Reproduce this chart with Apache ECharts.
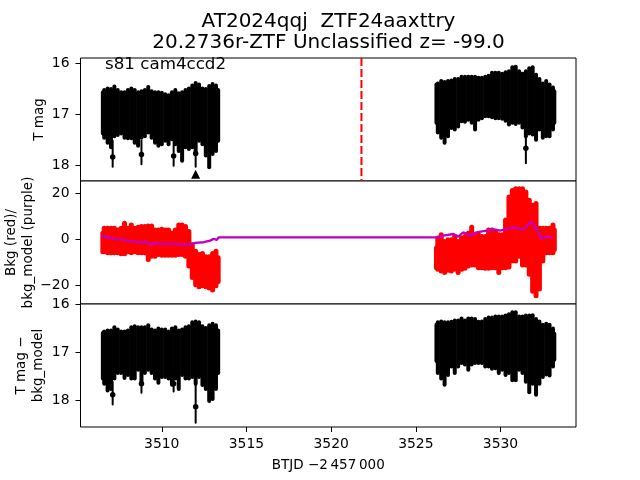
<!DOCTYPE html>
<html><head><meta charset="utf-8">
<style>html,body{margin:0;padding:0;background:#fff}#c{width:640px;height:480px}</style>
<script src="https://cdn.jsdelivr.net/npm/echarts@6/dist/echarts.min.js"></script>
</head><body><div id="c"></div>
<script>
const tL=[3506.52,3506.6,3506.8,3507.0,3507.2,3507.4,3507.6,3507.8,3508.0,3508.2,3508.4,3508.6,3508.8,3509.0,3509.2,3509.4,3509.6,3509.8,3510.0,3510.2,3510.4,3510.6,3510.8,3511.0,3511.2,3511.4,3511.6,3511.8,3512.0,3512.2,3512.4,3512.6,3512.8,3513.0,3513.2,3513.33];
const tR=[3526.22,3526.3,3526.5,3526.7,3526.9,3527.1,3527.3,3527.5,3527.7,3527.9,3528.1,3528.3,3528.5,3528.7,3528.9,3529.1,3529.3,3529.5,3529.7,3529.9,3530.1,3530.3,3530.5,3530.7,3530.9,3531.1,3531.3,3531.5,3531.7,3531.9,3532.1,3532.3,3532.5,3532.7,3532.9,3533.1,3533.18];

const magTopL=[16.53,16.49,16.46,16.47,16.42,16.49,16.53,16.53,16.49,16.46,16.49,16.53,16.51,16.49,16.43,16.51,16.53,16.53,16.54,16.57,16.59,16.53,16.49,16.55,16.53,16.49,16.46,16.40,16.35,16.38,16.46,16.47,16.41,16.37,16.40,16.49];
const magBotL=[17.42,17.50,17.60,17.69,17.47,17.45,17.42,17.50,17.51,17.51,17.60,17.66,17.50,17.47,17.40,17.50,17.60,17.66,17.63,17.56,17.63,17.53,17.63,17.76,17.95,17.69,17.72,17.69,17.82,17.56,17.63,17.85,18.08,17.82,17.76,17.56];
const magTopR=[16.38,16.36,16.31,16.33,16.31,16.30,16.27,16.27,16.23,16.23,16.23,16.23,16.23,16.25,16.25,16.23,16.21,16.15,16.15,16.15,16.17,16.14,16.12,16.04,16.03,16.12,16.17,16.12,16.06,16.04,16.19,16.27,16.36,16.31,16.38,16.44,16.51];
const magBotR=[17.21,17.40,17.50,17.60,17.47,17.31,17.34,17.28,17.18,17.19,17.15,17.21,17.34,17.15,17.12,17.08,17.08,17.10,17.12,17.12,17.13,17.17,17.24,17.21,17.23,17.21,17.30,17.47,17.42,17.44,17.54,17.34,17.50,17.47,17.47,17.34,17.21];
const magOutT=[3507.1,3508.8,3510.7,3512.0,3531.5];
const magOutV=[17.84,17.79,17.82,17.77,17.67];
const magOutLo=[17.50,17.50,17.50,17.50,17.30];
const magOutHi=[18.05,18.00,18.03,18.05,17.98];
const limitT=[3512.0];
const limitV=[18.18];
const eventT=[3521.79,3521.79];
const eventV=[15.90,18.31];

const bkgTopL=[3.65,5.80,5.80,5.80,5.80,5.09,5.80,7.96,5.80,7.24,5.80,6.24,6.52,6.52,6.81,6.81,5.09,5.09,5.37,5.09,5.09,3.65,5.09,7.24,7.24,6.52,4.37,-1.36,-4.23,-5.66,-5.23,-6.67,-6.67,-5.23,-4.23,-7.10];
const bkgBotL=[-6.67,-6.67,-7.10,-7.10,-7.10,-7.10,-7.53,-7.53,-6.67,-7.10,-6.67,-7.10,-7.10,-7.10,-9.97,-8.53,-8.53,-7.81,-8.10,-8.10,-8.10,-8.10,-8.10,-7.81,-7.81,-8.53,-12.83,-17.85,-21.00,-21.87,-21.44,-21.87,-22.44,-23.30,-21.44,-19.57];
const bkgTopR=[-2.80,1.50,2.94,0.07,0.79,0.79,2.22,0.07,1.50,2.22,3.65,6.24,2.22,2.94,2.22,2.22,5.09,5.09,4.37,2.94,2.94,9.39,19.43,22.29,23.01,23.01,23.01,21.58,18.00,15.84,16.56,5.80,5.80,5.80,5.80,7.24,5.09];
const bkgBotR=[-13.55,-14.27,-14.98,-15.70,-14.70,-14.98,-14.27,-15.70,-14.27,-13.84,-12.83,-12.40,-12.40,-13.55,-13.55,-13.84,-13.84,-13.55,-13.55,-15.70,-13.55,-13.55,-13.26,-10.68,-10.68,-8.53,-12.40,-12.40,-16.42,-23.87,-25.74,-22.87,-10.68,-7.10,-7.10,-7.10,-5.66];
const modelT=[3506.41,3506.76,3507.16,3507.75,3508.14,3508.53,3509.12,3509.32,3509.61,3510.11,3510.70,3511.29,3511.68,3511.97,3512.47,3512.86,3513.06,3513.25,3513.35,3526.33,3526.63,3527.22,3527.51,3527.81,3528.20,3528.59,3529.18,3529.48,3529.97,3530.76,3531.35,3531.80,3532.13,3532.43,3532.72,3533.11];
const modelV=[1.50,0.79,0.07,-0.36,-0.93,-1.36,-1.36,-2.37,-1.65,-2.08,-2.08,-2.51,-2.37,-1.65,-1.36,-0.65,0.07,-0.36,0.72,0.79,1.50,2.22,1.07,2.94,1.50,2.94,3.65,4.37,3.65,5.09,4.08,7.67,4.37,0.07,1.07,0.50];

const subTopL=[16.56,16.53,16.51,16.51,16.44,16.49,16.53,16.53,16.51,16.44,16.42,16.44,16.44,16.44,16.40,16.49,16.51,16.47,16.49,16.49,16.53,16.47,16.44,16.51,16.49,16.44,16.42,16.34,16.32,16.34,16.42,16.46,16.40,16.37,16.40,16.51];
const subBotL=[17.59,17.70,17.84,17.81,17.59,17.48,17.48,17.58,17.52,17.59,17.59,17.41,17.66,17.48,17.41,17.48,17.59,17.68,17.56,17.56,17.59,17.72,17.59,17.81,17.52,17.59,17.59,17.56,17.70,17.56,17.73,17.81,18.06,18.02,17.81,17.48];
const subTopR=[16.39,16.34,16.32,16.34,16.34,16.33,16.30,16.30,16.26,16.30,16.26,16.26,16.27,16.33,16.32,16.27,16.24,16.24,16.22,16.22,16.22,16.20,16.17,16.13,16.13,16.22,16.22,16.20,16.20,16.19,16.27,16.32,16.39,16.37,16.39,16.47,16.58];
const subBotR=[17.23,17.48,17.59,17.72,17.52,17.34,17.48,17.34,17.27,17.30,17.41,17.30,17.27,17.27,17.27,17.34,17.34,17.39,17.38,17.48,17.41,17.52,17.48,17.63,17.63,17.41,17.48,17.66,17.88,17.70,17.93,17.70,17.56,17.51,17.53,17.34,17.20];
const subOutT=[3507.1,3508.8,3510.7,3512.0];
const subOutV=[17.89,17.66,17.66,18.14];
const subOutLo=[17.60,17.40,17.40,17.60];
const subOutHi=[18.11,17.87,17.84,18.49];

const xTicks=[3510,3515,3520,3525,3530];
const magTicks=[16,17,18];
const bkgTicks=[20,0,-20];
const titleLine1='AT2024qqj  ZTF24aaxttry';
const titleLine2='20.2736r-ZTF Unclassified z= -99.0';
const sectorLabel='s81 cam4ccd2';

const FONT='"DejaVu Sans"';
const TICK=13.9;
function cols(t,a,b){return t.map((x,i)=>[x,a[i],b[i]]);}
function band(idx,data,color,width,z){
  return {type:'custom',xAxisIndex:idx,yAxisIndex:idx,data:data,z:z||2,silent:true,clip:true,
    encode:{x:0,y:[1,2]},
    renderItem:function(p,api){
      const a=api.coord([api.value(0),api.value(1)]);
      const b=api.coord([api.value(0),api.value(2)]);
      const r=width/2;
      const y1=Math.min(a[1],b[1])+r,y2=Math.max(a[1],b[1])-r;
      return {type:'line',shape:{x1:a[0],y1:y1,x2:a[0],y2:Math.max(y1,y2)},
        style:{stroke:color,lineWidth:width,lineCap:'round',fill:null}};
    }};
}
function xAxis(i,labels){
  return {type:'value',gridIndex:i,min:3505.2,max:3534.46,splitLine:{show:false},
    axisLine:{show:false},
    axisTick:{show:labels,length:5,inside:false,lineStyle:{color:'#000',width:1},customValues:xTicks},
    axisLabel:{show:labels,color:'#000',fontFamily:FONT,fontSize:TICK,margin:10,customValues:xTicks,formatter:v=>String(v)},
    name:labels?'BTJD \u22122\u2009457\u2009000':'',nameLocation:'middle',nameGap:31,nameMoveOverlap:false,
    nameTextStyle:{color:'#000',fontFamily:FONT,fontSize:13.5}};
}
function yAxis(i,min,max,inv,ticks,name,gap){
  return {type:'value',gridIndex:i,min:min,max:max,inverse:inv,splitLine:{show:false},
    axisLine:{show:false},
    axisTick:{show:true,length:5,lineStyle:{color:'#000',width:1},customValues:ticks},
    axisLabel:{color:'#000',fontFamily:FONT,fontSize:TICK,margin:11,customValues:ticks,
      formatter:v=>String(v).replace('-','\u2212')},
    name:name,nameLocation:'middle',nameGap:gap,nameRotate:90,nameMoveOverlap:false,
    nameTextStyle:{color:'#000',fontFamily:FONT,fontSize:13.5,lineHeight:17,align:'center'}};
}
const gridBase={left:80.5,width:495.5,show:true,borderColor:'#000',borderWidth:1,backgroundColor:'#fff',outerBoundsMode:'none',containLabel:false};
const option={
  animation:false,
  backgroundColor:'#fff',
  title:[
    {text:titleLine1,left:328.5,top:12,padding:0,textAlign:'center',textStyle:{color:'#000',fontFamily:FONT,fontSize:20,fontWeight:'normal'}},
    {text:titleLine2,left:328.5,top:33,padding:0,textAlign:'center',textStyle:{color:'#000',fontFamily:FONT,fontSize:20,fontWeight:'normal'}},
    {text:sectorLabel,left:105,top:56,padding:0,textStyle:{color:'#000',fontFamily:FONT,fontSize:16.7,fontWeight:'normal'}}
  ],
  grid:[
    Object.assign({top:58,height:123},gridBase),
    Object.assign({top:181,height:123},gridBase),
    Object.assign({top:304,height:123},gridBase)
  ],
  xAxis:[xAxis(0,false),xAxis(1,false),xAxis(2,true)],
  yAxis:[
    yAxis(0,15.90,18.31,true,magTicks,'T mag',33),
    yAxis(1,-28.3,25.3,false,bkgTicks,'Bkg (red)/\nbkg_model (purple)',44),
    yAxis(2,16,18.56,true,magTicks,'T mag \u2212\nbkg_model',34)
  ],
  series:[
    band(0,cols(tL,magTopL,magBotL),'#000',4),
    band(0,cols(tR,magTopR,magBotR),'#000',4),
    band(0,cols(magOutT,magOutLo,magOutHi),'#000',2),
    {type:'scatter',xAxisIndex:0,yAxisIndex:0,symbolSize:5.5,itemStyle:{color:'#000',opacity:1},silent:true,
      data:magOutT.map((x,i)=>[x,magOutV[i]])},
    {type:'scatter',xAxisIndex:0,yAxisIndex:0,symbol:'triangle',symbolSize:9,itemStyle:{color:'#000',opacity:1},silent:true,
      data:limitT.map((x,i)=>[x,limitV[i]])},
    {type:'line',xAxisIndex:0,yAxisIndex:0,showSymbol:false,silent:true,z:4,
      lineStyle:{color:'#ff0000',width:2,type:[8,3]},
      data:eventT.map((x,i)=>[x,eventV[i]])},
    band(1,cols(tL,bkgTopL,bkgBotL),'#ff0000',5),
    band(1,cols(tR,bkgTopR,bkgBotR),'#ff0000',5),
    {type:'line',xAxisIndex:1,yAxisIndex:1,showSymbol:false,silent:true,z:5,
      lineStyle:{color:'#c000c0',width:2.4},
      data:modelT.map((x,i)=>[x,modelV[i]])},
    band(2,cols(tL,subTopL,subBotL),'#000',4),
    band(2,cols(tR,subTopR,subBotR),'#000',4),
    band(2,cols(subOutT,subOutLo,subOutHi),'#000',2),
    {type:'scatter',xAxisIndex:2,yAxisIndex:2,symbolSize:5.5,itemStyle:{color:'#000',opacity:1},silent:true,
      data:subOutT.map((x,i)=>[x,subOutV[i]])}
  ]
};
echarts.init(document.getElementById('c'),null,{renderer:'canvas'}).setOption(option);
</script></body></html>
